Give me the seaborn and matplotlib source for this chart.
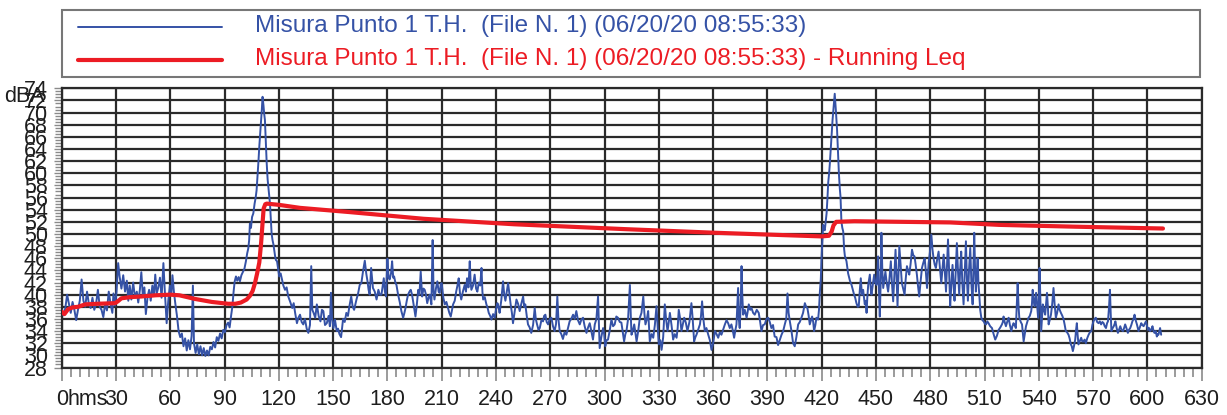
import numpy as np
import pandas as pd
import seaborn as sns
import matplotlib
matplotlib.use("Agg")
import matplotlib.pyplot as plt
from matplotlib.ticker import MultipleLocator, FixedLocator
from matplotlib.lines import Line2D
from matplotlib.patches import Rectangle

# ---- measured sound level, dBA (time in seconds from start) ----
t_level = [
    0, 1, 2, 3, 4, 5, 6, 7, 8, 9, 10, 11, 12, 13, 14, 15, 16, 17, 18, 19,
    20, 21, 22, 23, 24, 25, 26, 27, 28, 28.6, 29.5, 30.3, 31.2, 32, 33, 34, 35, 36, 36.8, 37.6,
    38.5, 39.5, 40.5, 41.5, 42.3, 43.2, 44.0, 44.8, 45.7, 46.5, 47.4, 48.3, 49.2, 50.1, 51.0, 51.7, 52.5, 53.4, 54.3, 55.2,
    56.2, 57.0, 58.0, 58.9, 59.8, 60.6, 61.2, 62.0, 62.8, 63.7, 64.6, 65.5, 66.4, 67.3, 68.2, 69.1, 70.0, 70.9, 71.8, 72.5,
    73.1, 74.0, 74.9, 75.8, 76.7, 77.6, 78.5, 79.4, 80.3, 81.2, 82.1, 83.0, 83.9, 84.8, 85.7, 86.6, 87.5, 88.4, 89.3, 90.2,
    91.1, 92.0, 92.8, 93.6, 94.3, 95.0, 95.6, 96.3, 97.0, 97.8, 98.5, 99.3, 100.2, 101.0, 101.8, 102.5, 103.1, 103.6, 104.0, 104.6,
    105.2, 105.9, 106.6, 107.2, 107.7, 108.2, 108.7, 109.2, 109.7, 110.1, 110.6, 111.0, 111.5, 111.9, 112.3, 112.8, 113.3, 113.8, 114.3, 114.7,
    115.1, 115.6, 116.0, 116.5, 117.0, 117.5, 118.0, 118.4, 119.0, 119.6, 120.2, 121.0, 121.6, 122.5, 123.4, 124.3, 125.2, 126.3, 127.4, 128.2,
    129.0, 130.0, 130.8, 131.7, 132.6, 133.5, 134.4, 135.4, 136.3, 137.2, 137.9, 138.5, 139.2, 140.1, 141.0, 142.0, 143.0, 143.8, 144.6, 145.5,
    146.5, 147.5, 148.2, 148.8, 149.4, 150.2, 151.0, 152.0, 152.7, 153.5, 154.4, 155.5, 156.4, 157.3, 158.2, 159.0, 160.0, 160.8, 161.6, 162.9,
    163.8, 164.7, 165.6, 166.5, 167.5, 168.3, 169.0, 169.6, 170.2, 171.0, 172.0, 173.0, 174.0, 175.0, 175.8, 176.7, 177.4, 178.0, 178.6, 179.2,
    180.0, 180.6, 181.2, 182.0, 182.6, 183.2, 183.7, 184.4, 185.0, 185.9, 186.8, 187.7, 188.7, 189.4, 190.0, 190.7, 191.4, 192.2, 192.9, 193.6,
    194.2, 194.9, 195.5, 196.3, 197.0, 197.7, 198.4, 199.2, 199.9, 200.6, 201.3, 202.0, 202.7, 203.4, 204.3, 205.0, 205.5, 206.0, 206.8, 207.6,
    208.3, 208.9, 209.5, 210.0, 210.9, 211.7, 212.6, 213.5, 214.2, 215.0, 215.7, 216.3, 217.2, 218.0, 218.7, 219.4, 220.1, 220.8, 221.7, 222.7,
    223.4, 224.0, 224.8, 225.5, 226.0, 226.4, 227.3, 228.2, 229.0, 229.7, 230.5, 231.3, 232.0, 232.5, 232.9, 233.8, 234.7, 235.4, 236.0, 236.8,
    237.5, 238.4, 239.3, 240.0, 240.8, 241.4, 242.0, 242.9, 243.9, 244.5, 245.2, 246.0, 246.7, 247.4, 248.1, 248.8, 249.4, 250.3, 251.3, 252.2,
    253.1, 254.0, 255.0, 255.6, 256.2, 257.0, 257.7, 258.6, 259.5, 260.5, 261.4, 262.0, 262.7, 263.5, 264.2, 265.1, 266.0, 266.6, 267.3, 268.0,
    268.8, 269.7, 270.6, 271.5, 272.4, 273.2, 273.9, 274.5, 275.2, 276.1, 277.0, 277.9, 278.9, 279.8, 280.7, 281.6, 282.6, 283.5, 284.4, 285.3,
    286.3, 287.2, 288.1, 289.0, 290.0, 290.9, 291.8, 292.7, 293.6, 294.6, 295.5, 296.4, 296.9, 297.3, 298.2, 299.2, 299.8, 300.4, 301.1, 301.9,
    302.8, 303.8, 304.7, 305.6, 306.5, 307.4, 308.4, 309.3, 310.0, 310.8, 311.5, 312.1, 313.0, 314.0, 314.5, 314.9, 315.7, 316.4, 317.0, 317.7,
    318.6, 319.5, 320.4, 321.4, 322.0, 322.6, 323.4, 324.1, 325.0, 326.0, 326.9, 327.8, 328.7, 329.4, 330.0, 330.8, 331.5, 332.4, 333.3, 334.0,
    334.8, 335.5, 336.1, 337.0, 337.9, 338.8, 339.8, 340.4, 341.0, 341.8, 342.5, 343.2, 344.0, 344.9, 345.8, 346.9, 348.0, 348.7, 349.5, 350.2,
    350.8, 351.7, 352.7, 353.3, 353.9, 354.6, 355.4, 356.3, 357.3, 358.2, 359.1, 360.0, 361.0, 361.9, 362.8, 363.7, 364.6, 365.5, 366.5, 367.4,
    368.3, 369.2, 370.1, 370.8, 371.6, 372.2, 372.9, 373.8, 374.2, 374.7, 375.2, 375.7, 376.1, 376.6, 377.5, 378.5, 379.1, 379.7, 380.5, 381.2,
    382.1, 383.0, 384.1, 385.2, 386.0, 386.7, 387.6, 388.5, 389.5, 390.4, 391.3, 392.2, 393.1, 394.0, 395.0, 395.9, 396.8, 397.8, 398.7, 399.6,
    400.4, 401.1, 401.7, 402.4, 403.3, 404.2, 405.1, 406.0, 407.0, 407.9, 408.8, 409.7, 410.7, 411.4, 412.1, 412.8, 413.4, 414.1, 414.7, 415.3,
    415.8, 416.5, 417.1, 417.6, 418.0, 418.5, 419.0, 419.5, 419.9, 420.4, 420.8, 421.3, 421.7, 422.2, 422.7, 423.2, 423.6, 424.1, 424.5, 425.0,
    425.5, 426.0, 426.6, 427.2, 427.8, 428.5, 429.0, 429.5, 430.0, 430.4, 430.9, 431.4, 431.9, 432.4, 432.8, 433.7, 434.6, 435.6, 436.5, 437.2,
    437.9, 438.5, 439.2, 439.9, 440.5, 441.0, 441.6, 442.2, 442.9, 443.4, 443.8, 444.3, 444.8, 445.2, 445.7, 446.2, 446.6, 447.1, 447.5, 448.2,
    449.0, 449.6, 450.3, 450.8, 451.2, 451.7, 452.1, 452.6, 453.0, 453.5, 454.0, 454.6, 455.2, 455.9, 456.7, 457.4, 458.2, 458.8, 459.5, 460.1,
    460.8, 461.3, 461.9, 462.4, 462.9, 463.6, 464.3, 465.0, 465.8, 466.4, 467.1, 467.7, 468.4, 469.1, 469.9, 470.6, 471.3, 471.9, 472.6, 473.2,
    473.9, 474.6, 475.4, 476.1, 476.9, 477.5, 478.2, 478.6, 479.1, 479.8, 480.6, 481.2, 481.8, 482.4, 483.1, 483.8, 484.6, 485.3, 486.1, 486.7,
    487.4, 488.0, 488.7, 489.2, 489.8, 490.4, 491.0, 491.6, 492.3, 492.8, 493.4, 494.0, 494.7, 495.3, 496.0, 496.5, 497.1, 497.7, 498.4, 499.0,
    499.7, 500.2, 500.8, 501.4, 502.1, 502.7, 503.4, 503.8, 504.3, 504.7, 505.2, 505.7, 506.2, 506.6, 507.1, 507.6, 508.2, 508.8, 509.5, 510.2,
    510.8, 511.5, 512.2, 513.1, 514.1, 515.0, 515.9, 516.8, 517.8, 518.7, 519.6, 520.1, 520.5, 521.1, 521.8, 522.5, 523.3, 524.0, 524.8, 525.4,
    526.0, 526.6, 527.3, 527.8, 528.3, 528.8, 529.2, 530.0, 530.7, 531.2, 531.6, 532.2, 532.9, 533.6, 534.3, 535.0, 535.8, 536.2, 536.6, 537.1,
    537.7, 538.1, 538.5, 539.0, 539.6, 540.0, 540.4, 540.8, 541.3, 541.8, 542.2, 542.8, 543.5, 544.0, 544.5, 545.0, 545.4, 546.0, 546.7, 547.4,
    548.1, 548.7, 549.4, 550.1, 550.9, 551.5, 552.2, 553.0, 553.7, 554.3, 554.9, 555.6, 556.4, 557.0, 557.7, 558.2, 558.8, 559.4, 560.1, 560.5,
    561.0, 561.4, 561.9, 562.6, 563.4, 564.0, 564.7, 565.3, 566.0, 566.7, 567.5, 568.2, 569.0, 569.6, 570.2, 570.8, 571.5, 572.2, 573.0, 573.7,
    574.4, 575.1, 575.8, 576.4, 577.1, 577.7, 578.2, 578.8, 579.3, 579.7, 580.1, 580.8, 581.4, 581.9, 582.3, 583.0, 583.7, 584.4, 585.0, 585.7,
    586.5, 587.1, 587.7, 588.4, 589.2, 589.8, 590.5, 591.1, 591.7, 592.3, 592.9, 593.5, 594.2, 594.7, 595.1, 595.8, 596.6, 597.2, 597.9, 598.5,
    599.2, 599.8, 600.3, 600.9, 601.5, 602.2, 602.8, 603.4, 603.9, 604.6, 605.2, 605.7, 606.1, 606.6, 607.0, 607.6,
]
level = [
    37.5, 36.6, 37.8, 40.0, 38.5, 37.0, 38.8, 37.5, 35.8, 37.5, 39.0, 42.5, 39.0, 38.0, 40.5, 38.5, 37.8, 39.5, 37.5, 38.5,
    40.8, 38.0, 37.5, 36.3, 38.5, 37.4, 40.5, 38.5, 37.0, 40.2, 38.2, 40.5, 45.2, 43.0, 41.0, 43.2, 40.5, 42.3, 39.0, 41.5,
    39.2, 42.0, 39.5, 40.5, 38.7, 40.8, 43.7, 40.0, 41.2, 36.8, 39.5, 40.8, 39.0, 41.5, 39.8, 43.3, 40.2, 41.2, 42.8, 39.5,
    45.2, 40.5, 35.3, 39.0, 41.5, 40.0, 43.2, 40.5, 38.5, 36.5, 34.0, 33.0, 33.6, 31.5, 32.8, 30.8, 32.5, 31.0, 33.2, 41.5,
    32.0, 30.4, 31.8, 30.2, 31.5, 30.0, 31.2, 29.9, 30.8, 30.0, 31.4, 31.0, 32.2, 31.3, 33.0, 32.4, 33.6, 32.8, 34.2, 33.8,
    35.0, 35.4, 34.6, 36.5, 38.0, 40.5, 42.2, 43.0, 42.3, 42.9, 42.2, 43.2, 43.8, 44.3, 45.5, 46.8, 47.6, 49.0, 51.7, 51.0,
    52.8, 53.4, 55.0, 56.0, 57.2, 59.5, 61.8, 64.4, 66.5, 68.2, 70.5, 72.6, 71.2, 69.8, 68.8, 65.0, 61.6, 59.0, 57.5, 56.2,
    55.0, 52.3, 50.1, 49.0, 48.3, 47.2, 46.2, 45.7, 45.5, 44.2, 43.0, 43.5, 42.7, 41.5, 40.8, 41.2, 39.7, 38.8, 37.8, 38.6,
    37.0, 35.3, 36.2, 36.7, 35.5, 35.1, 36.0, 34.4, 33.7, 35.0, 44.7, 37.5, 37.0, 36.2, 38.4, 36.5, 35.6, 37.5, 37.3, 35.0,
    35.3, 36.5, 34.8, 40.3, 36.0, 34.5, 35.9, 34.0, 34.4, 33.5, 33.0, 36.0, 35.5, 37.0, 36.5, 38.1, 39.7, 38.0, 37.5, 39.2,
    40.2, 41.6, 41.9, 43.8, 45.6, 43.5, 42.2, 40.8, 40.0, 44.4, 41.1, 40.5, 39.2, 40.8, 40.0, 40.0, 41.5, 42.7, 40.5, 39.7,
    45.9, 43.0, 42.5, 43.5, 45.5, 42.8, 43.0, 42.0, 41.6, 40.0, 38.8, 37.3, 36.2, 37.0, 37.8, 39.0, 40.0, 40.5, 40.8, 40.0,
    38.9, 37.5, 36.4, 38.5, 40.8, 40.0, 43.8, 39.7, 41.0, 40.8, 40.0, 38.6, 39.5, 40.0, 38.4, 49.0, 40.5, 39.2, 41.0, 42.2,
    40.5, 40.3, 41.8, 41.9, 39.5, 38.4, 38.8, 37.8, 37.0, 36.4, 37.5, 38.4, 39.0, 40.5, 41.5, 42.7, 40.2, 39.2, 40.5, 41.6,
    40.5, 42.7, 41.2, 45.5, 42.0, 40.8, 41.5, 43.3, 41.0, 40.5, 42.0, 41.5, 44.4, 40.5, 39.2, 39.6, 38.4, 37.8, 37.0, 36.5,
    35.9, 36.8, 36.2, 37.5, 38.6, 38.0, 37.0, 39.0, 42.2, 40.2, 39.0, 40.5, 41.9, 40.2, 38.4, 37.0, 35.3, 37.2, 39.2, 38.5,
    37.3, 38.5, 39.7, 38.0, 38.4, 36.5, 35.1, 34.6, 33.7, 35.0, 37.8, 36.0, 35.1, 34.2, 34.5, 35.8, 35.6, 36.5, 36.7, 35.5,
    35.1, 36.0, 36.2, 34.8, 34.0, 35.2, 39.7, 36.0, 34.0, 33.5, 32.7, 33.8, 33.4, 34.5, 35.6, 36.0, 36.7, 36.0, 37.3, 35.8,
    35.1, 35.9, 36.2, 34.8, 33.7, 34.6, 35.3, 34.0, 32.6, 35.1, 36.0, 39.7, 35.0, 31.2, 33.0, 34.5, 33.5, 31.5, 32.5, 32.6,
    34.0, 35.9, 34.8, 35.1, 36.4, 36.2, 35.5, 35.4, 34.0, 32.3, 33.5, 34.0, 36.0, 41.6, 36.5, 33.4, 34.2, 35.1, 33.8, 32.3,
    34.0, 36.2, 37.0, 39.7, 37.0, 35.1, 36.0, 37.3, 32.3, 33.5, 32.9, 35.0, 38.1, 34.5, 31.8, 32.5, 30.9, 33.0, 38.4, 36.0,
    34.0, 35.5, 37.0, 35.0, 32.6, 33.5, 32.9, 34.5, 37.5, 36.0, 34.0, 35.0, 36.2, 35.4, 34.0, 35.5, 38.6, 36.0, 32.3, 33.0,
    33.4, 34.2, 35.1, 36.5, 38.9, 36.0, 34.0, 34.5, 33.4, 32.5, 30.9, 32.0, 34.0, 33.5, 32.9, 33.8, 33.4, 34.2, 35.1, 35.8,
    35.3, 34.5, 35.1, 34.2, 32.9, 34.0, 35.1, 41.1, 36.0, 34.5, 38.0, 44.7, 40.0, 36.7, 37.5, 36.2, 37.2, 38.4, 37.5, 37.8,
    37.0, 36.7, 37.5, 37.0, 35.5, 34.0, 35.0, 35.1, 36.0, 36.2, 35.5, 34.5, 35.0, 33.1, 33.0, 31.7, 32.5, 33.4, 34.0, 35.1,
    36.0, 40.2, 37.0, 35.6, 34.0, 32.0, 31.5, 33.0, 35.1, 35.5, 36.2, 37.0, 38.6, 38.0, 37.8, 36.5, 35.1, 35.8, 36.4, 35.5,
    34.0, 35.0, 36.2, 36.0, 35.9, 37.5, 40.5, 42.5, 46.0, 49.0, 51.5, 50.8, 50.6, 52.0, 53.4, 56.0, 58.5, 60.0, 61.6, 64.0,
    66.5, 68.8, 71.0, 73.1, 70.5, 67.1, 63.5, 60.0, 57.5, 56.1, 52.0, 51.0, 50.4, 47.5, 46.4, 45.5, 43.5, 42.3, 41.6, 40.8,
    40.0, 39.5, 38.6, 38.0, 38.1, 40.5, 42.7, 40.0, 40.8, 39.5, 38.4, 39.0, 37.0, 39.5, 41.6, 42.5, 43.3, 41.0, 40.0, 41.5,
    43.3, 42.0, 41.6, 43.5, 46.3, 40.0, 36.4, 42.0, 50.2, 44.0, 41.1, 42.5, 43.8, 42.0, 40.5, 42.5, 45.5, 42.0, 38.9, 43.0,
    47.4, 43.5, 38.1, 43.0, 48.0, 45.0, 41.9, 41.0, 40.0, 42.5, 44.7, 44.0, 43.3, 45.0, 47.4, 46.5, 46.3, 45.0, 43.3, 41.5,
    39.7, 42.0, 44.4, 45.2, 46.0, 44.0, 41.1, 43.0, 45.2, 47.0, 49.9, 47.5, 46.0, 45.0, 44.4, 45.8, 47.1, 44.5, 41.9, 44.0,
    46.6, 44.0, 40.5, 44.5, 49.1, 44.0, 38.1, 41.5, 44.9, 42.0, 39.0, 43.5, 48.5, 44.0, 40.0, 44.0, 47.1, 42.0, 38.4, 43.0,
    48.8, 43.0, 39.0, 44.0, 47.7, 42.0, 38.4, 44.0, 50.2, 45.0, 40.5, 43.5, 46.0, 42.0, 39.9, 37.5, 36.2, 35.8, 35.6, 35.2,
    35.1, 35.6, 35.3, 34.8, 34.5, 33.5, 32.6, 33.2, 34.2, 34.6, 35.1, 35.5, 36.4, 35.5, 34.8, 35.5, 36.2, 35.0, 34.0, 34.8,
    35.3, 35.0, 34.5, 38.0, 41.9, 38.0, 36.2, 35.5, 35.1, 33.5, 32.3, 33.5, 34.8, 35.5, 36.2, 36.5, 37.3, 38.5, 40.8, 39.0,
    38.1, 39.5, 40.3, 38.5, 36.2, 39.0, 44.4, 39.5, 34.0, 36.5, 38.4, 37.5, 36.7, 38.5, 40.3, 38.0, 35.1, 35.8, 36.7, 38.5,
    41.1, 38.5, 36.2, 37.0, 38.4, 37.5, 37.0, 36.5, 35.9, 35.0, 34.0, 33.8, 33.4, 32.8, 31.8, 31.5, 30.7, 31.5, 32.6, 34.0,
    35.3, 33.5, 31.8, 32.3, 32.9, 32.3, 32.3, 32.6, 32.0, 32.8, 33.4, 33.8, 34.0, 35.0, 35.6, 36.0, 36.2, 35.5, 35.3, 35.6,
    35.1, 35.5, 35.3, 34.8, 34.5, 35.3, 35.6, 38.0, 40.8, 37.0, 34.0, 34.5, 34.8, 35.2, 35.6, 34.5, 33.7, 34.3, 34.8, 34.2,
    34.0, 34.5, 35.1, 34.5, 33.7, 34.2, 34.5, 35.0, 35.6, 36.0, 36.7, 35.8, 35.1, 34.5, 34.0, 34.6, 35.3, 35.0, 34.8, 35.2,
    35.6, 34.8, 34.2, 34.5, 34.0, 34.3, 34.8, 34.0, 33.7, 34.0, 33.1, 33.5, 33.4, 34.0, 34.5, 33.4,
]

# ---- running equivalent level Leq, dBA ----
t_leq = [0, 1.5, 3.5, 6, 9, 13, 20, 29.5, 31, 33, 38, 44, 52, 60, 65, 73.6, 83, 92, 96, 99,
         102.2, 104, 105.5, 106.8, 108, 109.2, 110.2, 111, 111.6, 112.5, 113.3, 120, 131.7, 159.3, 200,
         250, 311, 361, 400, 420, 424, 425.5, 426.5, 428, 438, 491, 518, 560, 608.6]
leq = [37.2, 36.8, 37.6, 37.9, 38.0, 38.4, 38.5, 38.6, 38.9, 39.4, 39.6, 39.7, 39.9, 40.0, 39.9, 39.3, 38.8, 38.5, 38.5, 38.7,
       39.2, 39.8, 40.6, 41.9, 43.5, 45.3, 48.5, 51.8, 54.2, 54.9, 55.0, 54.8, 54.3, 53.6, 52.5,
       51.6, 50.8, 50.2, 49.8, 49.6, 49.7, 50.4, 51.4, 52.0, 52.1, 51.9, 51.5, 51.2, 50.9]

series_labels = [
    "Misura Punto 1 T.H.  (File N. 1) (06/20/20 08:55:33)",
    "Misura Punto 1 T.H.  (File N. 1) (06/20/20 08:55:33) - Running Leq",
]
x_ticks = list(range(0, 631, 30))
y_ticks = list(range(28, 75, 2))

BLUE = "#3552a6"
RED = "#ec1c24"
GRID = "#2a2a2a"
TICK = "#8a8a8a"
TEXT = "#1e1e1e"
FS = 15.5

sns.set_style("white")
plt.rcParams["font.family"] = ["Liberation Sans", "DejaVu Sans"]

W, H = 1227, 415
fig = plt.figure(figsize=(W / 100, H / 100), dpi=100)


def fx(px):
    return px / W


def fy(py):
    return 1 - py / H


ax_l, ax_r, ax_t, ax_b = 61.7, 1201.7, 88.3, 367.5
ax = fig.add_axes([fx(ax_l), fy(ax_b), (ax_r - ax_l) / W, (ax_b - ax_t) / H])

df_level = pd.DataFrame({"t": t_level, "dB": level})
df_leq = pd.DataFrame({"t": t_leq, "dB": leq})
sns.lineplot(data=df_level, x="t", y="dB", ax=ax, color=BLUE, lw=1.4,
             estimator=None, sort=False, zorder=3)
sns.lineplot(data=df_leq, x="t", y="dB", ax=ax, color=RED, lw=3.0,
             estimator=None, sort=False, zorder=4)

ax.set_xlim(0, 630)
ax.set_ylim(28, 74)
ax.set_xlabel("")
ax.set_ylabel("")

ax.xaxis.set_major_locator(FixedLocator(x_ticks))
ax.xaxis.set_minor_locator(MultipleLocator(5))
ax.yaxis.set_major_locator(FixedLocator(y_ticks))
ax.yaxis.set_minor_locator(MultipleLocator(0.5))
ax.set_xticklabels([str(v) for v in x_ticks])
ax.set_yticklabels([str(v) for v in y_ticks])

ax.grid(True, which="major", color=GRID, lw=1.6)
ax.set_axisbelow(True)
for s in ax.spines.values():
    s.set_color(GRID)
    s.set_linewidth(1.6)

ax.tick_params(axis="x", which="major", direction="out", length=9.5, width=1.2,
               color=TICK, pad=6, labelsize=FS, labelcolor=TEXT)
ax.tick_params(axis="x", which="minor", direction="out", length=6.5, width=1.2, color=TICK)
ax.tick_params(axis="y", which="major", direction="out", length=6, width=1.0,
               color=TICK, pad=4, labelsize=FS, labelcolor=TEXT)
ax.tick_params(axis="y", which="minor", direction="out", length=5, width=1.0, color=TICK)
ax.tick_params(bottom=True, left=True, which="both")

# time unit next to the origin label
ax.annotate("hms", xy=(0, 0), xycoords="axes fraction", xytext=(4.2, -15.5),
            textcoords="offset points", ha="left", va="top", fontsize=FS, color=TEXT)
# level unit at the top of the scale
fig.text(fx(4), fy(97), "dBA", ha="left", va="center", fontsize=FS, color=TEXT)

# legend box above the plot
fig.add_artist(Rectangle((fx(62), fy(77)), (1200 - 62) / W, (77 - 10) / H,
                         transform=fig.transFigure, facecolor="white",
                         edgecolor="#777777", lw=1.5))
for (py, color, lw, label, base) in [(27, BLUE, 1.4, series_labels[0], 31.7),
                                     (60, RED, 3.0, series_labels[1], 65.0)]:
    fig.add_artist(Line2D([fx(78), fx(222)], [fy(py), fy(py)], transform=fig.transFigure,
                          color=color, lw=lw))
    fig.text(fx(255), fy(base), label, ha="left", va="baseline", fontsize=17.5, color=color)

fig.savefig("out.png", dpi=100)
